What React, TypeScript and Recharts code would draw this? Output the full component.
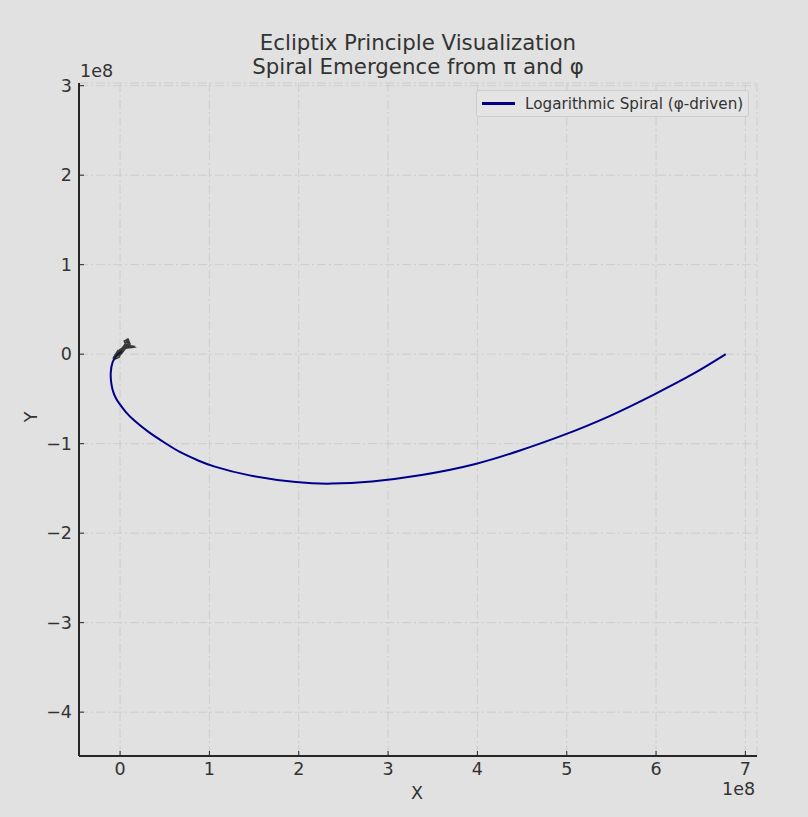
import { LineChart, Line, XAxis, YAxis, CartesianGrid } from "recharts";

// values in units of 1e8
const SCALE = 1e8;

const spiralX = [
  0.02, -0.03, -0.09, -0.11, -0.1, -0.08, -0.045, 0, 0.06, 0.149, 0.32, 0.5,
  0.67, 0.9, 1.01, 1.42, 2.01, 2.35, 2.8, 3.36, 4.01, 4.47, 4.92, 5.48, 6.0,
  6.41, 6.78,
];
const spiralY = [
  0.03, 0.0, -0.08, -0.216, -0.33, -0.42, -0.5, -0.565, -0.645, -0.737, -0.875,
  -0.99, -1.1, -1.2, -1.245, -1.36, -1.44, -1.452, -1.43, -1.36, -1.23, -1.08,
  -0.925, -0.7, -0.44, -0.23, 0.0,
];

// small dark squiggle near the origin
const noiseX = [
  -0.078, -0.022, -0.056, 0.022, -0.011, 0.056, 0.078, 0.1, 0.045, 0.145, 0.089,
  0.011, -0.034, -0.067, 0.0, -0.045, 0.034, -0.022, 0.067, 0.045, 0.089, 0.112,
  0.067, 0.157, 0.078, 0.022, -0.011, -0.056, -0.034,
];
const noiseY = [
  -0.045, 0.045, -0.011, 0.067, 0.022, 0.112, 0.156, 0.089, 0.056, 0.089, 0.1,
  0.0, -0.022, -0.034, 0.056, 0.011, 0.078, -0.011, 0.1, 0.145, 0.168, 0.112,
  0.067, 0.078, 0.112, 0.034, -0.034, -0.056, 0.022,
];

const xTicks = [0, 1, 2, 3, 4, 5, 6, 7];
const yTicks = [-4, -3, -2, -1, 0, 1, 2, 3];

const spiral = spiralX.map((x, i) => ({ x: x * SCALE, y: spiralY[i] * SCALE }));
const noise = noiseX.map((x, i) => ({ x: x * SCALE, y: noiseY[i] * SCALE }));

const FONT = "DejaVu Sans, sans-serif";
const TEXT = "#333333";
const AXIS = "#262626";
const TICK_FS = 17.5;

const fmt = (v: number) => {
  const n = Math.round(v / SCALE);
  return n < 0 ? "\u2212" + Math.abs(n) : String(n);
};

export default function App() {
  return (
    <div
      style={{
        position: "absolute",
        left: 0,
        top: 0,
        width: 808,
        height: 817,
        background: "#e1e1e1",
        fontFamily: FONT,
        color: TEXT,
        overflow: "hidden",
      }}
    >
      <div
        style={{
          position: "absolute",
          left: 0,
          top: 31,
          width: 836,
          textAlign: "center",
          fontSize: 21.3,
          lineHeight: "24px",
        }}
      >
        Ecliptix Principle Visualization
        <br />
        Spiral Emergence from π and φ
      </div>

      <LineChart
        width={808}
        height={817}
        margin={{ top: 83, right: 51, bottom: 31, left: 39 }}
      >
        <CartesianGrid stroke="#cdcdcd" strokeDasharray="9 3 2 3" />
        <XAxis
          type="number"
          dataKey="x"
          domain={[-0.46 * SCALE, 7.13 * SCALE]}
          ticks={xTicks.map((t) => t * SCALE)}
          tickFormatter={fmt}
          allowDataOverflow
          height={30}
          axisLine={{ stroke: AXIS, strokeWidth: 2 }}
          tickLine={{ stroke: AXIS, strokeWidth: 1 }}
          tickSize={-5}
          tickMargin={12}
          tick={{ fill: TEXT, fontSize: TICK_FS, fontFamily: FONT }}
        />
        <YAxis
          type="number"
          dataKey="y"
          domain={[-4.49 * SCALE, 3.03 * SCALE]}
          ticks={yTicks.map((t) => t * SCALE)}
          tickFormatter={fmt}
          allowDataOverflow
          width={40}
          axisLine={{ stroke: AXIS, strokeWidth: 2 }}
          tickLine={{ stroke: AXIS, strokeWidth: 1 }}
          tickSize={-5}
          tickMargin={12}
          tick={{ fill: TEXT, fontSize: TICK_FS, fontFamily: FONT }}
        />
        <Line
          data={spiral}
          dataKey="y"
          type="basis"
          stroke="#00008b"
          strokeWidth={2}
          dot={false}
          activeDot={false}
          isAnimationActive={false}
        />
        <Line
          data={noise}
          dataKey="y"
          type="linear"
          stroke="#1a1a1a"
          strokeWidth={1.5}
          strokeOpacity={0.85}
          dot={false}
          activeDot={false}
          isAnimationActive={false}
        />
      </LineChart>

      <div style={{ position: "absolute", left: 80, top: 61, fontSize: TICK_FS }}>1e8</div>
      <div style={{ position: "absolute", left: 722, top: 779, fontSize: TICK_FS }}>1e8</div>
      <div
        style={{
          position: "absolute",
          left: 417,
          top: 793,
          fontSize: TICK_FS,
          transform: "translate(-50%, -50%)",
        }}
      >
        X
      </div>
      <div
        style={{
          position: "absolute",
          left: 31,
          top: 417,
          fontSize: TICK_FS,
          transform: "translate(-50%, -50%) rotate(-90deg)",
        }}
      >
        Y
      </div>

      <div
        style={{
          position: "absolute",
          left: 476,
          top: 90,
          width: 271,
          height: 25,
          border: "1px solid #cccccc",
          borderRadius: 3,
          background: "#e4e4e4",
          display: "flex",
          alignItems: "center",
          fontSize: 15.2,
        }}
      >
        <div
          style={{
            marginLeft: 5,
            width: 33,
            height: 2.5,
            background: "#00008b",
          }}
        />
        <span style={{ marginLeft: 10 }}>Logarithmic Spiral (φ-driven)</span>
      </div>
    </div>
  );
}
